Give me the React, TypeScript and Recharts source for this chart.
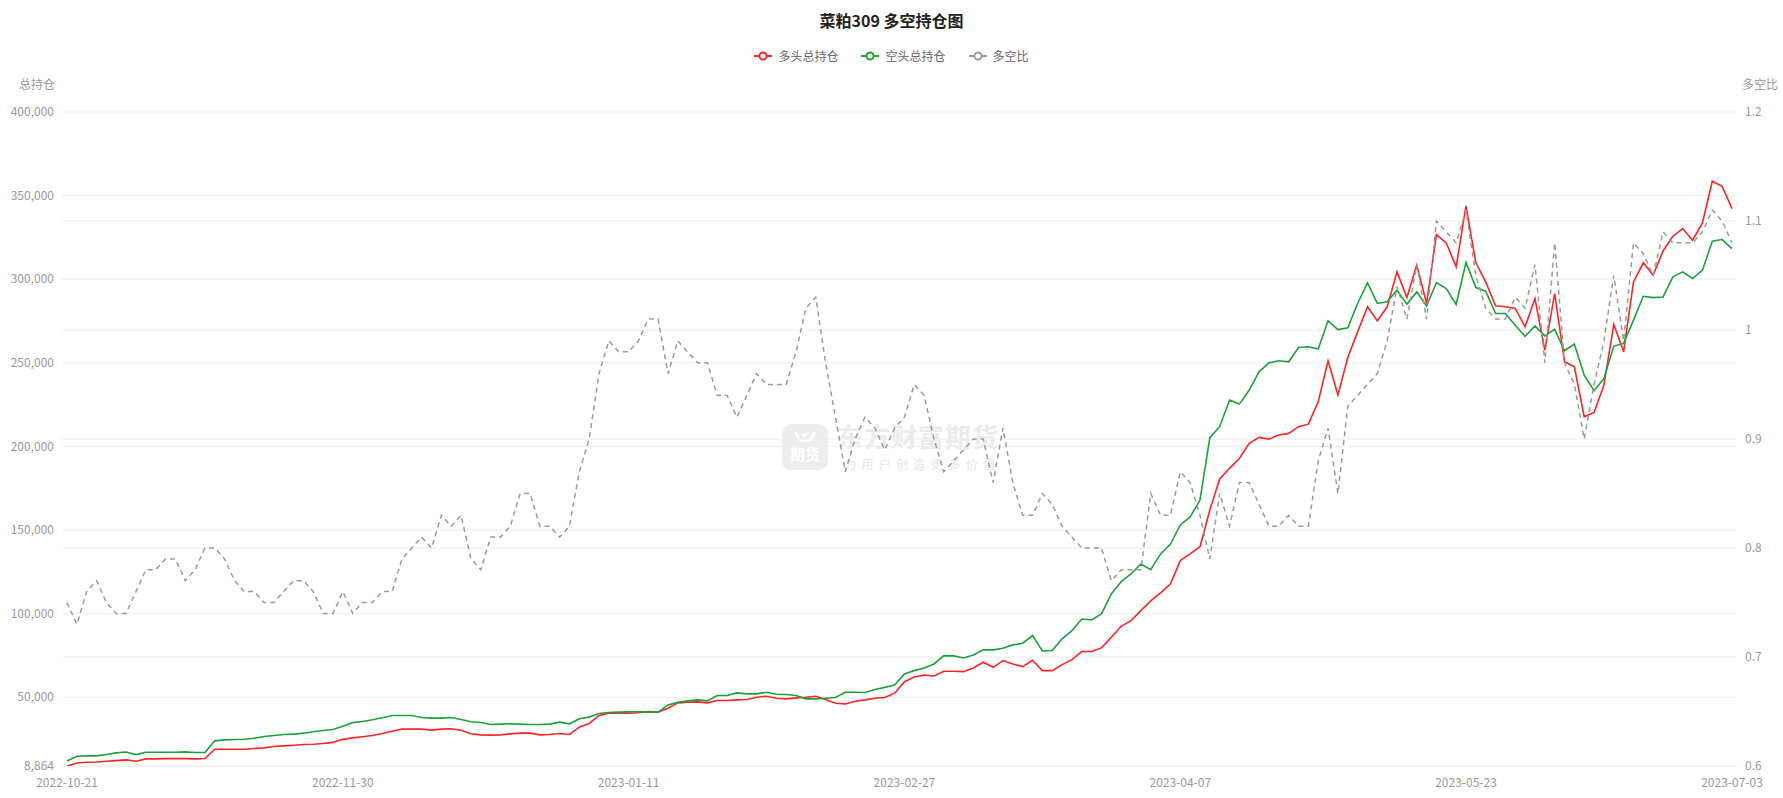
import React from 'react'
import { LineChart, Line, XAxis, YAxis, CartesianGrid } from 'recharts'

// trading days, by month
const oct22 = [21, 24, 25, 26, 27, 28, 31]
const nov22 = [1, 2, 3, 4, 7, 8, 9, 10, 11, 14, 15, 16, 17, 18, 21, 22, 23, 24, 25, 28, 29, 30]
const dec22 = [1, 2, 5, 6, 7, 8, 9, 12, 13, 14, 15, 16, 19, 20, 21, 22, 23, 26, 27, 28, 29, 30]
const jan23 = [3, 4, 5, 6, 9, 10, 11, 12, 13, 16, 17, 18, 19, 20, 30, 31]
const feb23 = [1, 2, 3, 6, 7, 8, 9, 10, 13, 14, 15, 16, 17, 20, 21, 22, 23, 24, 27, 28]
const mar23 = [1, 2, 3, 6, 7, 8, 9, 10, 13, 14, 15, 16, 17, 20, 21, 22, 23, 24, 27, 28, 29, 30, 31]
const apr23 = [3, 4, 6, 7, 10, 11, 12, 13, 14, 17, 18, 19, 20, 21, 24, 25, 26, 27, 28]
const may23 = [4, 5, 8, 9, 10, 11, 12, 15, 16, 17, 18, 19, 22, 23, 24, 25, 26, 29, 30, 31]
const jun23 = [1, 2, 5, 6, 7, 8, 9, 12, 13, 14, 15, 16, 19, 20, 21, 26, 27, 28, 29, 30]
const jul23 = [3]

const xTicks = ['2022-10-21', '2022-11-30', '2023-01-11', '2023-02-27', '2023-04-07', '2023-05-23', '2023-07-03']
const leftTicks = [8864, 50000, 100000, 150000, 200000, 250000, 300000, 350000, 400000]
const rightTicks = [0.6, 0.7, 0.8, 0.9, 1, 1.1, 1.2]

// 多头总持仓
const longTotal = [
  8864, 10700, 11100, 11300, 11700, 12100, 12500, 11700, 13100, 13100, 13300, 13300, 13300, 13100, 13300,
  18900, 18900, 18900, 18900, 19300, 19700, 20500, 20900, 21300, 21700, 21900, 22300, 23000, 24800, 25700,
  26400, 27100, 28300, 29700, 30900, 30900, 30900, 30300, 30900, 31100, 30300, 28100, 27500, 27300,
  27500, 28100, 28500, 28500, 27500, 27700, 28300, 27700, 32100, 34300, 39100, 40500, 40500, 40500,
  40700, 41500, 41100, 43400, 46600, 47000, 47200, 46600, 48000, 48000, 48400, 48600, 50000, 50600, 49400,
  49000, 49600, 50000, 50600, 48600, 46400, 46000, 47600, 48400, 49400, 49800, 52400, 59300, 62100,
  63300, 62700, 65500, 65500, 65300, 67500, 70900, 67900, 71900, 69900, 68300, 72100, 65900, 65900,
  69500, 72500, 77300, 77300, 79500, 85900, 92400, 95800, 101800, 107600, 112400, 117700, 131700, 135700,
  140000, 162000, 180500, 186900, 192800, 201800, 205400, 204400, 206800, 207800, 211800, 213300, 226700, 251200,
  230700, 253200, 268500, 283500, 275100, 283500, 304400, 289000, 308400, 285500, 326700, 321700, 307400,
  343800, 309800, 298400, 284100, 283500, 282500, 271500, 288400, 257600, 291400, 250600, 247600, 217700, 220300,
  236700, 272900, 256600, 298400, 309800, 302400, 316900, 325700, 330300, 323300, 333700, 358600, 355600, 342200,
]

// 空头总持仓
const shortTotal = [
  11900, 14700, 14900, 14900, 15700, 16700, 17200, 15700, 17100, 17100, 17100, 17100, 17300, 16900, 16900,
  23900, 24500, 24700, 24900, 25500, 26500, 27100, 27700, 27900, 28500, 29300, 30100, 30700, 32700, 34800,
  35500, 36500, 37700, 39100, 39100, 39100, 37900, 37500, 37500, 37900, 36700, 35300, 34900, 33700,
  33900, 34100, 33900, 33700, 33700, 33900, 35100, 34100, 37100, 38100, 40300, 40900, 41100, 41300,
  41300, 41100, 41100, 45400, 47000, 47800, 48400, 47800, 51000, 51000, 52600, 52000, 52000, 53000, 51800,
  51600, 51000, 49000, 49000, 49400, 49800, 53000, 53000, 52800, 54600, 55900, 57300, 63900, 65900,
  67500, 69900, 74900, 74700, 73500, 75300, 78300, 78300, 79300, 81300, 82300, 86900, 77700, 77900,
  84900, 89800, 96800, 96200, 99800, 111800, 119100, 123700, 129700, 126300, 135700, 141600, 153000, 157800,
  167900, 205200, 211800, 227700, 225300, 233700, 244600, 250000, 251200, 250600, 259200, 259600, 258200, 275100,
  269900, 270900, 285500, 297800, 285500, 286500, 293400, 285100, 292400, 283900, 298000, 294400, 284900,
  310000, 295000, 292800, 279500, 279500, 272500, 265900, 272100, 266100, 270100, 257200, 261200, 242600, 233300,
  240600, 260000, 261600, 275500, 289800, 289000, 289400, 301400, 304400, 300400, 305400, 322700, 323700, 318300,
]

// 多空比
const ratio = [
  0.75, 0.73, 0.76, 0.77, 0.75, 0.74, 0.74, 0.76, 0.78, 0.78, 0.79, 0.79, 0.77, 0.78, 0.8,
  0.8, 0.79, 0.77, 0.76, 0.76, 0.75, 0.75, 0.76, 0.77, 0.77, 0.76, 0.74, 0.74, 0.76, 0.74,
  0.75, 0.75, 0.76, 0.76, 0.79, 0.8, 0.81, 0.8, 0.83, 0.82, 0.83, 0.79, 0.78, 0.81,
  0.81, 0.82, 0.85, 0.85, 0.82, 0.82, 0.81, 0.82, 0.87, 0.9, 0.96, 0.99, 0.98, 0.98,
  0.99, 1.01, 1.01, 0.96, 0.99, 0.98, 0.97, 0.97, 0.94, 0.94, 0.92, 0.94, 0.96, 0.95, 0.95,
  0.95, 0.98, 1.02, 1.03, 0.97, 0.92, 0.87, 0.9, 0.92, 0.91, 0.89, 0.91, 0.92, 0.95,
  0.94, 0.9, 0.87, 0.88, 0.89, 0.9, 0.9, 0.86, 0.91, 0.86, 0.83, 0.83, 0.85, 0.84,
  0.82, 0.81, 0.8, 0.8, 0.8, 0.77, 0.78, 0.78, 0.78, 0.85, 0.83, 0.83, 0.87, 0.86,
  0.83, 0.79, 0.85, 0.82, 0.86, 0.86, 0.84, 0.82, 0.82, 0.83, 0.82, 0.82, 0.88, 0.91,
  0.85, 0.93, 0.94, 0.95, 0.96, 0.99, 1.04, 1.01, 1.06, 1.01, 1.1, 1.09, 1.08,
  1.11, 1.05, 1.02, 1.01, 1.01, 1.03, 1.02, 1.06, 0.97, 1.08, 0.97, 0.95, 0.9, 0.95,
  0.99, 1.05, 0.99, 1.08, 1.07, 1.05, 1.09, 1.08, 1.08, 1.08, 1.09, 1.11, 1.1, 1.08,
]

const months: [string, number[]][] = [
  ['2022-10', oct22], ['2022-11', nov22], ['2022-12', dec22], ['2023-01', jan23], ['2023-02', feb23],
  ['2023-03', mar23], ['2023-04', apr23], ['2023-05', may23], ['2023-06', jun23], ['2023-07', jul23],
]
const dates = months.flatMap(([m, days]) => days.map(d => `${m}-${String(d).padStart(2, '0')}`))

const rows = dates.map((date, i) => ({
  date,
  long: longTotal[i],
  short: shortTotal[i],
  ratio: ratio[i],
}))

const FONT = "'Noto Sans CJK SC', 'Noto Sans', sans-serif"
const RED = '#ff2323'
const GREEN = '#1ba23a'
const GRAY = '#9a9a9a'
const tickStyle = { fill: '#999', fontSize: 12, fontFamily: FONT }

function LegendIcon({ color }: { color: string }) {
  return (
    <svg width={18} height={10} style={{ display: 'block' }}>
      <line x1={0} y1={5} x2={18} y2={5} stroke={color} strokeWidth={2} />
      <circle cx={9} cy={5} r={3.6} fill="#fff" stroke={color} strokeWidth={2} />
    </svg>
  )
}

const legendItems = [
  { name: '多头总持仓', color: RED },
  { name: '空头总持仓', color: GREEN },
  { name: '多空比', color: GRAY },
]

function Watermark() {
  return (
    <>
      <div style={{
        position: 'absolute', left: 782, top: 424, width: 46, height: 46,
        borderRadius: 9, background: '#ededed',
      }}>
        <svg width={46} height={46} style={{ position: 'absolute', left: 0, top: 0 }}>
          <path d="M14 8 A9 9 0 0 0 32 8" fill="none" stroke="#fff" strokeWidth={2.5} />
          <path d="M19 11 L27 8 L23 14 Z" fill="#fff" />
          <text x={23} y={36} textAnchor="middle" fill="#fff" fontSize={15} fontWeight={700} fontFamily={FONT}>期货</text>
        </svg>
      </div>
      <div style={{
        position: 'absolute', left: 837, top: 421, fontSize: 26, lineHeight: '30px',
        fontWeight: 700, color: '#ebebeb', fontFamily: FONT, letterSpacing: 1,
      }}>东方财富期货</div>
      <div style={{
        position: 'absolute', left: 844, top: 456, fontSize: 12, lineHeight: '16px',
        color: '#e6e6e6', fontFamily: FONT, letterSpacing: 5.4,
      }}>为用户创造更多价值</div>
    </>
  )
}

export default function App() {
  return (
    <div style={{
      position: 'absolute', left: 0, top: 0, width: 1783, height: 798,
      background: '#fff', overflow: 'hidden', fontFamily: FONT,
    }}>
      <Watermark />

      <div style={{ position: 'absolute', left: 0, top: 0, zIndex: 1 }}>
        <LineChart width={1783} height={798} data={rows} margin={{ top: 112, right: 0, bottom: 0, left: 0 }}>
          <CartesianGrid yAxisId="left" vertical={false} stroke="#eeeeee" />
          <CartesianGrid yAxisId="right" vertical={false} stroke="#eeeeee" />
          <XAxis
            dataKey="date" ticks={xTicks} interval={0}
            padding={{ left: 5, right: 5 }}
            axisLine={false} tickLine={false} tickSize={6} tickMargin={6}
            height={32} tick={tickStyle}
          />
          <YAxis
            yAxisId="left" orientation="left" width={62}
            domain={[8864, 400000]} ticks={leftTicks} allowDataOverflow
            axisLine={false} tickLine={false} tick={tickStyle}
            tickFormatter={(v: number) => v.toLocaleString('en-US')}
          />
          <YAxis
            yAxisId="right" orientation="right" width={46}
            domain={[0.6, 1.2]} ticks={rightTicks} allowDataOverflow
            axisLine={false} tickLine={false} tick={{ ...tickStyle, textAnchor: 'start' }}
            tickFormatter={(v: number) => String(+v.toFixed(1))}
          />
          <Line
            yAxisId="left" type="linear" dataKey="long" name="多头总持仓"
            stroke={RED} strokeWidth={1.6} dot={false} activeDot={false} isAnimationActive={false}
          />
          <Line
            yAxisId="left" type="linear" dataKey="short" name="空头总持仓"
            stroke={GREEN} strokeWidth={1.6} dot={false} activeDot={false} isAnimationActive={false}
          />
          <Line
            yAxisId="right" type="linear" dataKey="ratio" name="多空比"
            stroke={GRAY} strokeWidth={1.5} strokeDasharray="5 4"
            dot={false} activeDot={false} isAnimationActive={false}
          />
        </LineChart>
      </div>

      <div style={{
        position: 'absolute', left: 0, top: 9, width: 1783, textAlign: 'center',
        fontSize: 16, lineHeight: '22px', fontWeight: 700, color: '#222', zIndex: 2,
      }}>菜粕309 多空持仓图</div>

      <div style={{
        position: 'absolute', left: 0, top: 48, width: 1783, height: 16, zIndex: 2,
        display: 'flex', justifyContent: 'center', alignItems: 'center', gap: 23,
      }}>
        {legendItems.map(item => (
          <div key={item.name} style={{ display: 'flex', alignItems: 'center', gap: 6 }}>
            <LegendIcon color={item.color} />
            <span style={{ fontSize: 12, lineHeight: '16px', color: '#666' }}>{item.name}</span>
          </div>
        ))}
      </div>

      <div style={{ position: 'absolute', left: 19, top: 76, fontSize: 12, lineHeight: '16px', color: '#999', zIndex: 2 }}>总持仓</div>
      <div style={{ position: 'absolute', left: 1742, top: 76, fontSize: 12, lineHeight: '16px', color: '#999', zIndex: 2 }}>多空比</div>
    </div>
  )
}
